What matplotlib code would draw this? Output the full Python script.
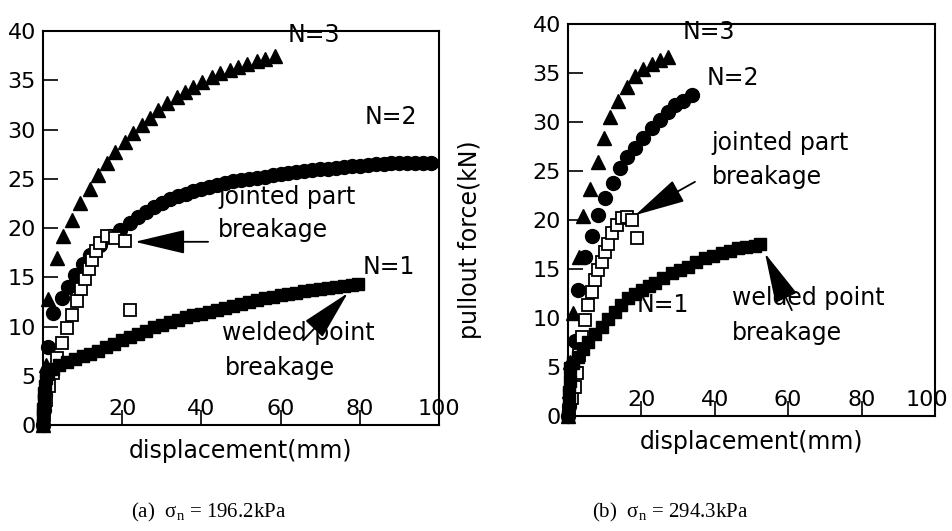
import matplotlib
matplotlib.use('Agg')
import matplotlib.pyplot as plt
from matplotlib.transforms import offset_copy

plt.rcParams['font.family'] = ['DejaVu Sans']
plt.rcParams['mathtext.fontset'] = 'custom'
plt.rcParams['mathtext.rm'] = 'Liberation Serif'
plt.rcParams['mathtext.it'] = 'Liberation Serif:italic'

# (a) sigma_n = 196.2 kPa
a_x3 = [0, 0.3, 0.8, 1.3, 3.5, 5.1, 7.3, 9.3, 11.9, 13.9, 16.2, 18.2, 20.7, 22.7, 25.0,
        27.0, 29.0, 31.3, 33.8, 35.9, 37.9, 40.2, 42.7, 44.7, 47.2, 49.2, 51.5, 54.0, 56.0, 58.6]
a_y3 = [0, 2.5, 6.1, 12.8, 17.0, 19.2, 20.8, 22.5, 24.0, 25.4, 26.6, 27.7, 28.7, 29.6, 30.5,
        31.2, 32.0, 32.7, 33.3, 33.8, 34.3, 34.8, 35.3, 35.7, 36.0, 36.3, 36.7, 37.0, 37.2, 37.5]

a_x2 = [0, 0.3, 0.6, 0.9, 1.3, 2.5, 4.8, 6.3, 8.0, 10.0, 12.0, 14.5, 17.0, 19.5,
        22, 24, 26, 28, 30, 32, 34, 36, 38, 40, 42, 44, 46, 48, 50, 52, 54, 56, 58, 60,
        62, 64, 66, 68, 70, 72, 74, 76, 78, 80, 82, 84, 86, 88, 90, 92, 94, 96, 98]
a_y2 = [0, 1.5, 3.0, 5.0, 7.9, 11.4, 12.9, 14.0, 15.2, 16.3, 17.3, 18.3, 19.2, 19.8,
        20.5, 21.1, 21.6, 22.1, 22.5, 22.9, 23.2, 23.5, 23.8, 24.0, 24.2, 24.4, 24.6, 24.8,
        24.9, 25.0, 25.1, 25.2, 25.35, 25.5, 25.6, 25.7, 25.8, 25.9, 25.95, 26.0, 26.1, 26.2,
        26.25, 26.3, 26.4, 26.45, 26.5, 26.55, 26.6, 26.6, 26.6, 26.65, 26.6]

a_x1 = [0, 0, 0.1, 0.2, 0.3, 0.5, 0.8, 1.3, 2.5, 4, 6, 8, 10, 12, 14, 16, 18, 20, 22, 24,
        26, 28, 30, 32, 34, 36, 38, 40, 42, 44, 46, 48, 50, 52, 54, 56, 58, 60, 62, 64, 66,
        68, 70, 72, 74, 76, 78, 79.5]
a_y1 = [0, 0.8, 1.6, 2.4, 3.2, 4.0, 4.8, 5.3, 5.7, 6.1, 6.4, 6.7, 7.0, 7.2, 7.5, 7.9, 8.2,
        8.6, 8.9, 9.2, 9.5, 9.9, 10.2, 10.5, 10.7, 11.0, 11.2, 11.3, 11.5, 11.7, 11.9, 12.1,
        12.3, 12.5, 12.7, 12.85, 13.0, 13.15, 13.3, 13.45, 13.6, 13.7, 13.85, 13.95, 14.05,
        14.15, 14.25, 14.3]

a_xo = [0.3, 0.8, 1.5, 2.5, 3.5, 4.8, 6.0, 7.3, 8.5, 9.5, 10.6, 11.5, 12.4, 13.3, 14.5,
        16.2, 18.2, 20.7, 22.0]
a_yo = [1.0, 2.5, 4.0, 5.3, 6.8, 8.3, 9.8, 11.2, 12.6, 13.8, 14.8, 15.8, 16.8, 17.7, 18.5,
        19.2, 19.0, 18.7, 11.7]

# (b) sigma_n = 294.3 kPa
b_x3 = [0, 0.2, 0.5, 1.4, 3.0, 4.2, 6.0, 8.1, 9.7, 11.4, 13.6, 16.1, 18.3, 20.4, 22.9, 25.1, 27.2]
b_y3 = [0, 2.5, 5.5, 10.5, 16.2, 20.4, 23.2, 25.9, 28.4, 30.5, 32.2, 33.6, 34.7, 35.4, 35.9, 36.3, 36.6]

b_x2 = [0, 0.3, 0.6, 1.2, 1.9, 2.7, 4.6, 6.5, 8.2, 10.1, 12.3, 14.2, 16.1, 18.3, 20.4, 22.9,
        25.1, 27.2, 29.2, 31.3, 33.8]
b_y2 = [0, 1.0, 2.7, 5.2, 7.7, 12.9, 16.2, 18.4, 20.5, 22.2, 23.8, 25.3, 26.4, 27.4, 28.4,
        29.4, 30.2, 31.0, 31.7, 32.2, 32.8]

b_x1 = [0, 0.2, 0.3, 0.5, 0.6, 1.5, 2.7, 4.0, 5.4, 7.3, 9.3, 11.0, 12.8, 14.5, 16.3, 18.2,
        20.2, 22.0, 23.7, 26.0, 28.3, 30.5, 32.7, 35.0, 37.3, 39.6, 42.0, 44.2, 46.3, 48.6,
        51.0, 52.3]
b_y1 = [0, 1.2, 2.4, 3.6, 4.9, 5.4, 6.0, 6.8, 7.6, 8.4, 9.1, 9.9, 10.6, 11.3, 12.0, 12.5,
        12.9, 13.3, 13.6, 14.1, 14.6, 14.9, 15.2, 15.7, 16.1, 16.35, 16.6, 16.85, 17.1, 17.25,
        17.4, 17.6]

b_xo = [0.3, 1.0, 1.9, 2.4, 3.0, 3.7, 4.6, 5.4, 6.5, 7.4, 8.2, 9.3, 10.1, 11.0, 12.0, 13.4,
        14.7, 16.1, 17.4, 18.8]
b_yo = [0.5, 1.8, 3.0, 4.4, 6.2, 8.1, 9.8, 11.3, 12.7, 13.9, 14.9, 15.7, 16.7, 17.6, 18.7,
        19.5, 20.2, 20.3, 20.0, 18.2]

x_ticks = [20, 40, 60, 80, 100]
y_ticks = [0, 5, 10, 15, 20, 25, 30, 35, 40]

fig = plt.figure(figsize=(9.53, 5.31), dpi=100)
ax1 = fig.add_axes([0.0451, 0.1996, 0.4155, 0.742])
ax2 = fig.add_axes([0.596, 0.2166, 0.385, 0.738])


def draw(ax, x3, y3, x2, y2, xo, yo, x1, y1):
    ax.plot(x2, y2, 'o', color='k', ms=10, clip_on=False, zorder=3)
    ax.plot(x3, y3, '^', color='k', ms=10, clip_on=False, zorder=3)
    ax.plot(xo, yo, 's', mfc='white', mec='k', mew=1.3, ms=8.5, clip_on=False, zorder=4)
    ax.plot(x1, y1, 's', color='k', ms=9, clip_on=False, zorder=5)
    ax.set_xlim(0, 100)
    ax.set_ylim(0, 40)
    ax.set_xticks(x_ticks)
    ax.set_yticks(y_ticks)
    ax.tick_params(direction='in', length=11, width=1.2, labelsize=16)
    ax.tick_params(axis='x', pad=-19)
    ax.tick_params(axis='y', pad=5)
    for s in ax.spines.values():
        s.set_linewidth(1.5)
    ax.set_xlabel('displacement(mm)', fontsize=17, labelpad=10)


draw(ax1, a_x3, a_y3, a_x2, a_y2, a_xo, a_yo, a_x1, a_y1)
draw(ax2, b_x3, b_y3, b_x2, b_y2, b_xo, b_yo, b_x1, b_y1)

# keep the last tick label of panel (b) inside the picture
fig.canvas.draw()
last = ax2.get_xticklabels()[-1]
last.set_transform(offset_copy(last.get_transform(), fig=fig, x=-8, y=0, units='dots'))

arrow = dict(arrowstyle='-|>,head_length=1.6,head_width=0.38', lw=1.3, color='k',
             shrinkA=0, shrinkB=0, mutation_scale=20)
fs = 17

# panel (a) labels
ax1.text(61.9, 39.6, 'N=3', fontsize=fs, va='center', clip_on=False)
ax1.text(81.3, 31.3, 'N=2', fontsize=fs, va='center')
ax1.text(80.8, 16.0, 'N=1', fontsize=fs, va='center')
ax1.text(44.2, 23.1, 'jointed part', fontsize=fs, va='center')
ax1.text(44.2, 19.8, 'breakage', fontsize=fs, va='center')
ax1.text(45.2, 9.3, 'welded point', fontsize=fs, va='center')
ax1.text(46.0, 5.8, 'breakage', fontsize=fs, va='center')
ax1.annotate('', xy=(23.2, 18.6), xytext=(41.7, 18.6), arrowprops=arrow)
ax1.annotate('', xy=(77.0, 13.4), xytext=(65.7, 8.6), arrowprops=arrow)

# panel (b) labels
ax2.text(31.3, 39.2, 'N=3', fontsize=fs, va='center', clip_on=False)
ax2.text(37.9, 34.5, 'N=2', fontsize=fs, va='center')
ax2.text(18.8, 11.3, 'N=1', fontsize=fs, va='center')
ax2.text(39.2, 27.9, 'jointed part', fontsize=fs, va='center')
ax2.text(39.2, 24.4, 'breakage', fontsize=fs, va='center')
ax2.text(44.7, 12.0, 'welded point', fontsize=fs, va='center')
ax2.text(44.7, 8.5, 'breakage', fontsize=fs, va='center')
ax2.annotate('', xy=(18.3, 20.5), xytext=(34.6, 23.9), arrowprops=arrow)
ax2.annotate('', xy=(53.7, 16.6), xytext=(61.0, 10.8), arrowprops=arrow)

fig.text(470 / 953, 1 - 240 / 531, 'pullout force(kN)', rotation=90, fontsize=fs,
         ha='center', va='center')

fig.text(131 / 953, 0.034, r'(a)  $\mathrm{\sigma_n}$ = 196.2kPa', fontsize=15,
         family='Liberation Serif', va='center')
fig.text(592 / 953, 0.034, r'(b)  $\mathrm{\sigma_n}$ = 294.3kPa', fontsize=15,
         family='Liberation Serif', va='center')

fig.savefig('out.png', dpi=100)
